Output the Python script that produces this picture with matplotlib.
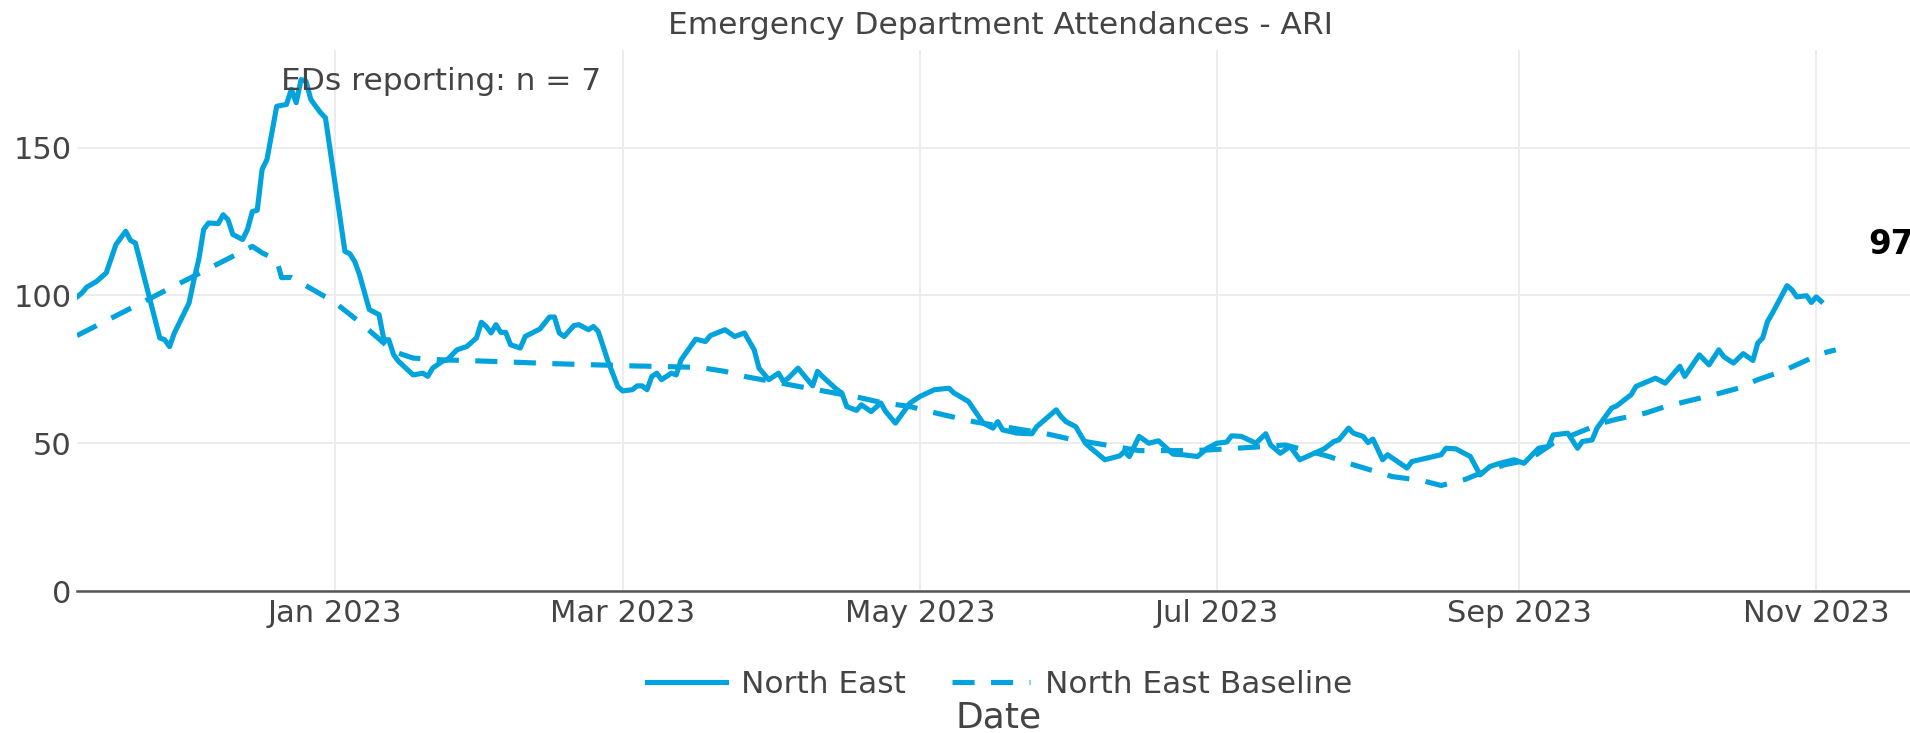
import numpy as np
import matplotlib
matplotlib.use("Agg")
import matplotlib.pyplot as plt
import matplotlib.dates as mdates

plt.rcParams['font.family'] = ['DejaVu Sans']

DAY0 = "2023-01-01"  # day offsets below are counted from this date

# North East - daily ED attendances
ne_days = [-53, -52, -51, -49, -47, -45, -43, -42, -41, -38, -36, -35, -34, -33, -30,
           -29, -28, -27, -26, -24, -23, -22, -21, -19, -18, -17, -16, -15, -14, -12,
           -10, -9, -8, -7, -6, -5, -4, -3, -2, 2, 3, 4, 5, 7, 9, 10, 11, 12, 13, 16,
           18, 19, 20, 22, 23, 25, 27, 29, 30, 31, 32, 33, 34, 35, 36, 38, 39, 41, 42,
           44, 45, 46, 47, 49, 50, 52, 53, 54, 56, 58, 59, 61, 62, 63, 64, 65, 66, 67,
           69, 70, 71, 74, 76, 77, 80, 82, 84, 86, 87, 89, 91, 92, 93, 95, 98, 99, 100,
           103, 104, 105, 107, 108, 110, 112, 113, 115, 118, 120, 123, 126, 127, 130,
           133, 135, 136, 137, 140, 143, 144, 148, 149, 150, 152, 154, 155, 158, 161,
           162, 163, 165, 167, 169, 172, 174, 177, 179, 181, 183, 184, 186, 189, 191,
           192, 194, 196, 198, 203, 205, 206, 208, 209, 211, 212, 213, 215, 216, 220,
           221, 227, 228, 230, 233, 235, 237, 239, 242, 244, 247, 249, 250, 253, 255,
           256, 258, 259, 262, 263, 266, 267, 271, 273, 276, 277, 280, 282, 284, 285,
           287, 289, 291, 292, 293, 294, 295, 298, 299, 300, 302, 303, 304, 305]
ne_values = [99.5, 100.8, 102.8, 104.7, 107.6, 117.2, 121.7, 118.6, 117.7, 98.5, 85.6,
             85.0, 82.7, 87.3, 97.4, 105.3, 112.1, 122.3, 124.5, 124.3, 127.3, 125.6,
             120.6, 118.9, 122.3, 128.4, 128.8, 142.6, 146.0, 164.0, 164.6, 169.7,
             165.2, 173.0, 172.5, 166.3, 164.0, 161.8, 160.1, 114.9, 114.1, 111.5,
             107.0, 95.2, 93.5, 85.0, 85.0, 79.9, 77.7, 73.1, 73.7, 72.6, 75.4, 77.7,
             78.2, 81.6, 82.7, 85.6, 90.9, 89.5, 87.3, 90.1, 87.5, 87.5, 83.3, 82.2,
             86.1, 87.8, 88.6, 92.7, 92.7, 87.3, 86.1, 89.8, 90.1, 88.4, 89.5, 87.8,
             77.7, 69.2, 67.7, 68.1, 69.4, 69.4, 68.1, 72.6, 73.7, 71.5, 73.7, 73.1,
             78.2, 85.2, 84.4, 86.4, 88.4, 86.1, 87.3, 81.6, 75.4, 71.5, 73.7, 70.9,
             72.0, 75.4, 69.4, 74.3, 72.6, 68.1, 67.0, 62.4, 61.1, 63.0, 60.7, 63.6,
             60.7, 56.8, 63.6, 65.8, 68.1, 68.6, 67.0, 64.1, 56.8, 55.1, 57.3, 54.5,
             53.4, 53.2, 55.6, 61.3, 59.0, 57.3, 55.6, 50.0, 48.5, 44.4, 45.7, 47.2,
             45.5, 52.3, 50.0, 50.8, 46.3, 46.1, 45.5, 48.3, 50.0, 50.4, 52.5, 52.3,
             50.0, 53.2, 49.4, 46.6, 48.9, 44.4, 48.1, 50.6, 51.1, 55.1, 53.4, 52.3,
             50.2, 51.4, 44.4, 46.1, 41.6, 43.8, 46.1, 48.3, 48.1, 45.5, 39.3, 42.1,
             43.2, 44.4, 43.2, 48.3, 48.9, 52.8, 53.4, 48.3, 50.6, 51.1, 55.1, 61.9,
             62.6, 66.4, 69.2, 72.0, 70.3, 76.0, 72.6, 79.9, 76.5, 81.6, 79.3, 77.1,
             80.3, 78.0, 83.9, 85.6, 91.2, 94.0, 103.3, 101.9, 99.5, 99.9, 97.6, 99.5,
             98.0]

# North East Baseline
base_days = [-53, -17, -15, -12, -11, -9, -8, -4, -2, 0, 4, 8, 12, 16, 22, 32, 45, 60,
             71, 75, 80, 84, 108, 112, 118, 122, 127, 131, 146, 150, 156, 160, 165, 169,
             175, 179, 185, 189, 195, 199, 204, 208, 213, 217, 223, 227, 232, 235, 240,
             245, 250, 254, 260, 263, 269, 273, 278, 283, 288, 292, 297, 301, 305, 308]
base_values = [86.4, 116.6, 114.4, 112.0, 106.0, 106.1, 105.2, 101.4, 99.5, 97.5, 92.3,
               86.7, 81.0, 78.8, 78.2, 77.7, 76.9, 76.2, 75.8, 75.6, 74.3, 72.6, 65.3,
               63.8, 62.4, 60.7, 58.8, 57.3, 53.2, 51.7, 50.0, 48.9, 47.5, 47.5, 47.5,
               47.7, 48.3, 48.7, 49.4, 47.7, 45.5, 43.2, 40.7, 38.7, 37.4, 35.7, 37.8,
               39.8, 42.7, 44.4, 50.0, 52.8, 56.8, 58.1, 60.2, 62.4, 64.4, 66.4, 68.6,
               71.5, 74.3, 77.3, 80.3, 81.6]

tick_dates = ["2023-01-01", "2023-03-01", "2023-05-01", "2023-07-01", "2023-09-01", "2023-11-01"]
tick_labels = ["Jan 2023", "Mar 2023", "May 2023", "Jul 2023", "Sep 2023", "Nov 2023"]
y_ticks = [0, 50, 100, 150]

latest_label = "97"
eds_label = "EDs reporting: n = 7"

color = "#00a3dc"
text_color = "#444444"

d0 = mdates.date2num(np.datetime64(DAY0))
x_ne = d0 + np.array(ne_days)
x_base = d0 + np.array(base_days)

fig = plt.figure(figsize=(19.1, 7.33), dpi=100)
ax = fig.add_axes([0.0403, 0.1937, 0.9675, 0.738])

ax.plot(x_ne, ne_values, color=color, lw=3.7, label="North East", zorder=3,
        solid_joinstyle="round")
ax.plot(x_base, base_values, color=color, lw=3.7, dashes=(4.3, 3.2),
        label="North East Baseline", zorder=3)

ax.set_xlim(d0 - 53, d0 - 53 + 379.3)
ax.set_ylim(0, 183)

ax.set_xticks([mdates.date2num(np.datetime64(s)) for s in tick_dates])
ax.set_xticklabels(tick_labels)
ax.set_yticks(y_ticks)
ax.tick_params(axis='both', length=0, labelsize=22, labelcolor=text_color)
ax.tick_params(axis='x', pad=6)
ax.tick_params(axis='y', pad=4)

ax.grid(True, color="#ebebeb", lw=1.3, zorder=0)
for side in ["top", "right", "left"]:
    ax.spines[side].set_visible(False)
ax.spines["bottom"].set_color("#555555")
ax.spines["bottom"].set_linewidth(1.8)
ax.spines["bottom"].set_zorder(4)

fig.text(0.5236, 0.965, "Emergency Department Attendances - ARI", ha="center", va="center",
         fontsize=22.5, color=text_color)
fig.text(0.147, 0.877, eds_label, ha="left", va="baseline", fontsize=22.5,
         color=text_color, zorder=10)
ax.text(d0 + 314.7, 117.2, latest_label, ha="left", va="center", fontsize=23.5,
        fontweight="bold", color="black", clip_on=False)

fig.legend(loc="center", bbox_to_anchor=(0.5236, 0.066), ncol=2, frameon=False,
           fontsize=22.5, handlelength=2.5, handletextpad=0.48, columnspacing=1.5,
           labelcolor=text_color)
fig.text(0.523, 0.021, "Date", ha="center", va="center", fontsize=26, color=text_color)

fig.savefig("out.png", dpi=100)
